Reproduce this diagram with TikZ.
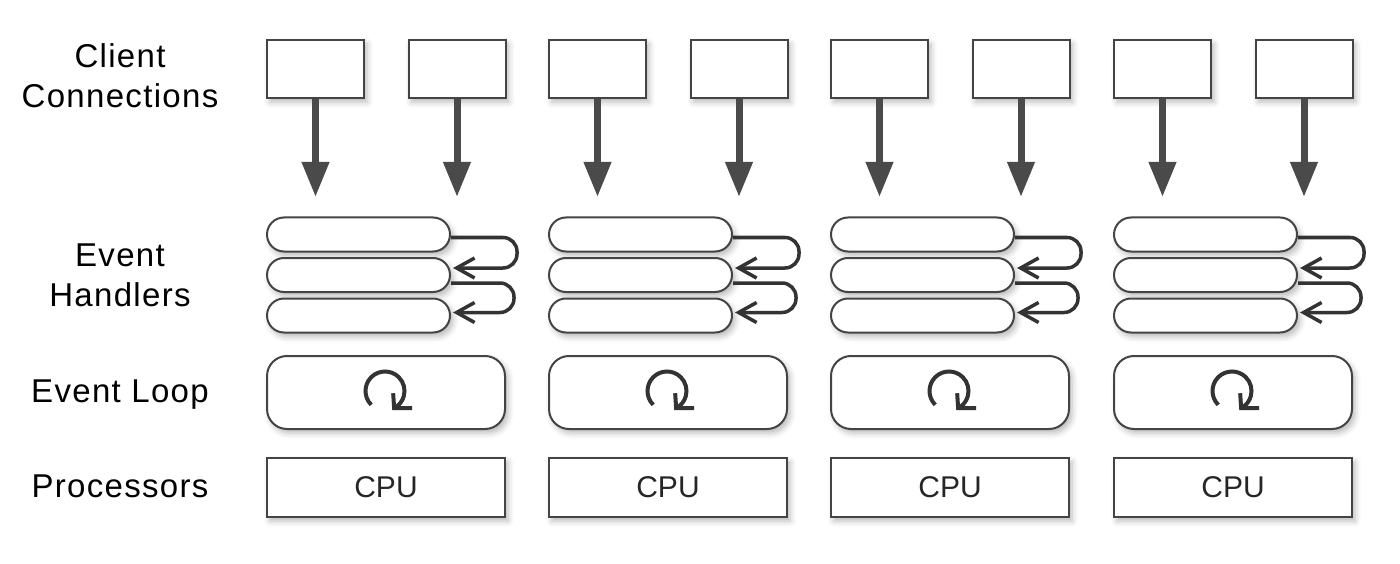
\documentclass[tikz,border=0pt]{standalone}
\usepackage{fontspec}
\setmainfont{Liberation Sans}
\newfontfamily\labfont[LetterSpace=4]{Liberation Sans}
\usetikzlibrary{arrows.meta,shapes.misc,shadows.blur}
\definecolor{edge}{HTML}{444444}
\definecolor{arr}{HTML}{4A4A4A}
\definecolor{loopc}{HTML}{333333}
\tikzset{
  shad/.style={blur shadow={shadow xshift=3pt,shadow yshift=-4pt,shadow blur radius=6pt,shadow opacity=28}},
  clientbox/.style={draw=edge,line width=2pt,fill=white,minimum width=97pt,minimum height=58pt,inner sep=0pt,shad},
  handler/.style={draw=edge,line width=2pt,fill=white,rounded rectangle,minimum width=183pt,minimum height=34pt,inner sep=0pt,shad},
  loopbox/.style={draw=edge,line width=2pt,fill=white,rounded corners=20pt,minimum width=238pt,minimum height=73pt,inner sep=0pt,shad},
  cpubox/.style={draw=edge,line width=2pt,fill=white,minimum width=238pt,minimum height=59pt,inner sep=0pt,shad,text=black!85,font=\fontsize{30}{36}\selectfont},
  bigarrow/.style={draw=arr,line width=7pt,-{Triangle[length=35pt,width=26pt]}},
  looparrow/.style={draw=loopc,line width=3.5pt,rounded corners=14pt,-{Straight Barb[length=18pt,width=20pt]}},
  iconarrow/.style={draw=loopc,line width=4pt},
  lab/.style={font=\labfont\fontsize{33}{40}\selectfont,align=center,anchor=base,inner sep=0pt}
}
\begin{document}
\begin{tikzpicture}[x=1pt,y=-1pt]
\useasboundingbox (0,0) rectangle (1400,564);
\node[lab] (labcc) at (120,108) {Client\\Connections};
\node[lab] (labeh) at (120,306) {Event\\Handlers};
\node[lab] (label) at (120,402) {Event Loop};
\node[lab] (labpr) at (120,497) {Processors};
\foreach \g/\ox in {1/0,2/282,3/564,4/847}{
  \node[clientbox] (c\g a) at (\ox+315.5,69) {};
  \node[clientbox] (c\g b) at (\ox+457,69) {};
  \coordinate (t\g a) at (\ox+315.5,197);
  \coordinate (t\g b) at (\ox+457,197);
  \draw[bigarrow] (c\g a.south) -- (t\g a);
  \draw[bigarrow] (c\g b.south) -- (t\g b);
  \node[handler] (h\g1) at (\ox+358.5,234.5) {};
  \node[handler] (h\g2) at (\ox+358.5,275) {};
  \node[handler] (h\g3) at (\ox+358.5,315.5) {};
  \draw[looparrow] ([yshift=-3pt]h\g1.east) -- ([xshift=66pt,yshift=-3pt]h\g1.east) -- ([xshift=66pt,yshift=7pt]h\g2.east) -- ([xshift=2pt,yshift=7pt]h\g2.east);
  \draw[looparrow] ([yshift=-8pt]h\g2.east) -- ([xshift=63pt,yshift=-8pt]h\g2.east) -- ([xshift=63pt,yshift=3pt]h\g3.east) -- ([xshift=2pt,yshift=3pt]h\g3.east);
  \node[loopbox] (l\g) at (\ox+386,392.5) {};
  \coordinate (ic\g) at (\ox+385,391);
  \draw[iconarrow,line cap=butt] (ic\g) ++(-225:19.5) arc[start angle=-225,end angle=62,radius=19.5] coordinate (ie\g);
  \draw[iconarrow,line cap=butt,line join=miter] ([shift={(-1,-15)}]ie\g) -- (ie\g) -- ([shift={(18,0)}]ie\g);
  \node[cpubox] (p\g) at (\ox+386,487.5) {CPU};
}
\end{tikzpicture}
\end{document}
